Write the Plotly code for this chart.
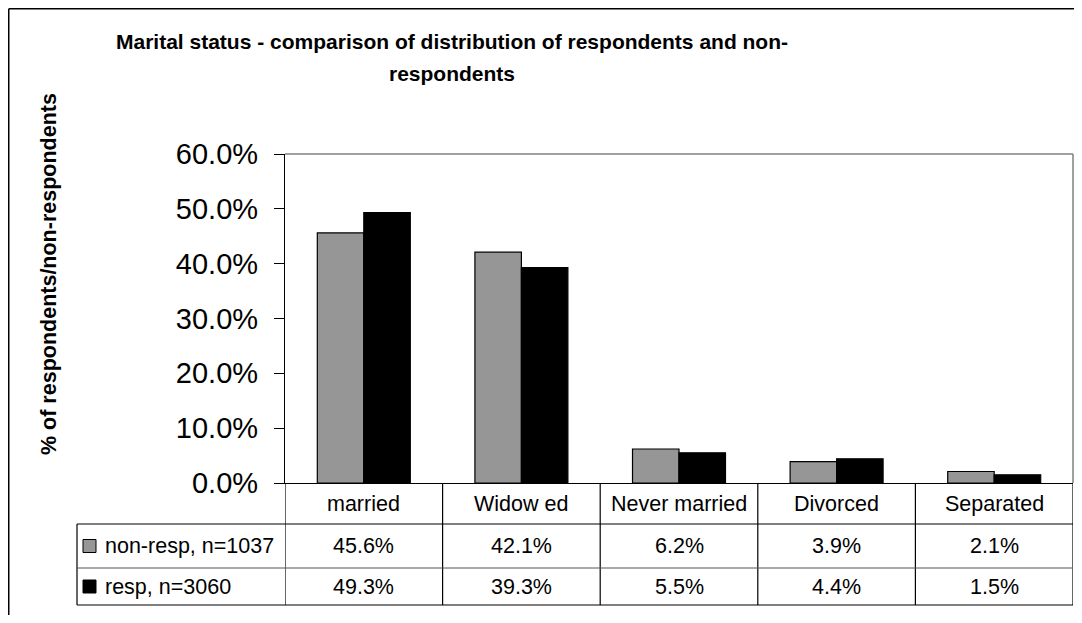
import plotly.graph_objects as go

# ---- data ----
categories = ["married", "Widow ed", "Never married", "Divorced", "Separated"]
series_names = ["non-resp, n=1037", "resp, n=3060"]
non_resp = [45.6, 42.1, 6.2, 3.9, 2.1]
resp = [49.3, 39.3, 5.5, 4.4, 1.5]
y_ticks = [0, 10, 20, 30, 40, 50, 60]

title_line1 = "Marital status - comparison of distribution of respondents and non-"
title_line2 = "respondents"
y_title = "% of respondents/non-respondents"

# ---- geometry (page pixels; page body has an 8px margin) ----
OFF = 8
W, H = 1066, 607
L, T = 277, 146
PW, PH = 788, 329
R = W - L - PW
B = H - T - PH

FONT = "Liberation Sans, Arial, sans-serif"
GRAY = "#969696"


def X(px):
    return (px - OFF - L) / PW


def Y(py):
    return 1 - (py - OFF - T) / PH


fig = go.Figure()
colors = [GRAY, "#000000"]
for name, vals, col in zip(series_names, [non_resp, resp], colors):
    fig.add_trace(go.Bar(
        x=list(range(len(categories))),
        y=[v / 100 for v in vals],
        name=name,
        marker=dict(color=col, line=dict(color="#000000", width=1.2)),
        showlegend=False,
    ))

fig.update_layout(
    width=W, height=H,
    margin=dict(l=L, r=R, t=T, b=B, pad=0),
    paper_bgcolor="white",
    plot_bgcolor="white",
    barmode="group",
    bargap=0.41,
    bargroupgap=0,
    font=dict(family=FONT, color="black"),
    xaxis=dict(
        range=[-0.5, len(categories) - 0.5],
        showticklabels=False, ticks="", showgrid=False, zeroline=False,
        showline=True, linecolor="black", linewidth=1.2,
        fixedrange=True,
    ),
    yaxis=dict(
        range=[0, 0.6],
        tickvals=[t / 100 for t in y_ticks],
        tickformat=".1%",
        ticks="outside", ticklen=10, tickcolor="black", tickwidth=1,
        ticklabelstandoff=10,
        tickfont=dict(size=29, family=FONT, color="black"),
        showgrid=False, zeroline=False,
        showline=True, linecolor="black", linewidth=1.2,
        fixedrange=True,
    ),
)

shapes = []
line_dark = dict(color="#000000", width=1.2)
line_gray = dict(color="#808080", width=1.5)

# outer chart frame (left & top visible)
shapes.append(dict(type="line", xref="paper", yref="paper",
                   x0=X(8.75), x1=X(1090), y0=Y(8.75), y1=Y(8.75), line=dict(color="#000000", width=1.5)))
shapes.append(dict(type="line", xref="paper", yref="paper",
                   x0=X(8.75), x1=X(8.75), y0=Y(8.75), y1=Y(640), line=dict(color="#000000", width=1.5)))

# plot area border top & right (gray)
shapes.append(dict(type="line", xref="paper", yref="paper",
                   x0=0, x1=1, y0=1, y1=1, line=line_gray))
shapes.append(dict(type="line", xref="paper", yref="paper",
                   x0=1, x1=1, y0=0, y1=1, line=line_gray))

# data table: vertical column dividers
for k in range(len(categories) + 1):
    shapes.append(dict(type="line", xref="x", yref="paper",
                       x0=k - 0.5, x1=k - 0.5, y0=Y(483), y1=Y(605), line=line_dark))
# table left border for legend column
shapes.append(dict(type="line", xref="paper", yref="paper",
                   x0=X(77), x1=X(77), y0=Y(524), y1=Y(605), line=line_dark))
# horizontal lines
shapes.append(dict(type="line", xref="paper", yref="paper",
                   x0=X(77), x1=1, y0=Y(524), y1=Y(524), line=line_dark))
shapes.append(dict(type="line", xref="paper", yref="paper",
                   x0=X(77), x1=1, y0=Y(568), y1=Y(568), line=dict(color="#555555", width=1)))
shapes.append(dict(type="line", xref="paper", yref="paper",
                   x0=X(77), x1=1, y0=Y(605), y1=Y(605), line=line_dark))

annotations = []
TFS = 21.5
# header row
for k, c in enumerate(categories):
    annotations.append(dict(xref="x", yref="paper", x=k, y=Y(503.5), text=c,
                            showarrow=False, xanchor="center", yanchor="middle",
                            font=dict(size=TFS, family=FONT, color="black")))
row_centers = [546, 586.5]
for r, (name, vals, col) in enumerate(zip(series_names, [non_resp, resp], colors)):
    yc = row_centers[r]
    for k, v in enumerate(vals):
        annotations.append(dict(xref="x", yref="paper", x=k, y=Y(yc), text=f"{v:.1f}%",
                                showarrow=False, xanchor="center", yanchor="middle",
                                font=dict(size=TFS, family=FONT, color="black")))
    # legend key
    shapes.append(dict(type="rect", xref="paper", yref="paper",
                       x0=X(83), x1=X(96), y0=Y(yc + 6.5), y1=Y(yc - 6.5),
                       fillcolor=col, line=dict(color="#000000", width=1)))
    annotations.append(dict(xref="paper", yref="paper", x=X(103), y=Y(yc), text=name,
                            showarrow=False, xanchor="left", yanchor="middle",
                            font=dict(size=TFS, family=FONT, color="black")))

# title (two lines)
annotations.append(dict(xref="paper", yref="paper", x=X(452), y=Y(42), text=f"<b>{title_line1}</b>",
                        showarrow=False, xanchor="center", yanchor="middle",
                        font=dict(size=21, family=FONT, color="black")))
annotations.append(dict(xref="paper", yref="paper", x=X(452), y=Y(74), text=f"<b>{title_line2}</b>",
                        showarrow=False, xanchor="center", yanchor="middle",
                        font=dict(size=21, family=FONT, color="black")))
# y-axis title
annotations.append(dict(xref="paper", yref="paper", x=X(49), y=Y(274), text=f"<b>{y_title}</b>",
                        showarrow=False, xanchor="center", yanchor="middle", textangle=-90,
                        font=dict(size=21.5, family=FONT, color="black")))

fig.update_layout(shapes=shapes, annotations=annotations)

fig.write_html("out.html", config=dict(displayModeBar=False))
